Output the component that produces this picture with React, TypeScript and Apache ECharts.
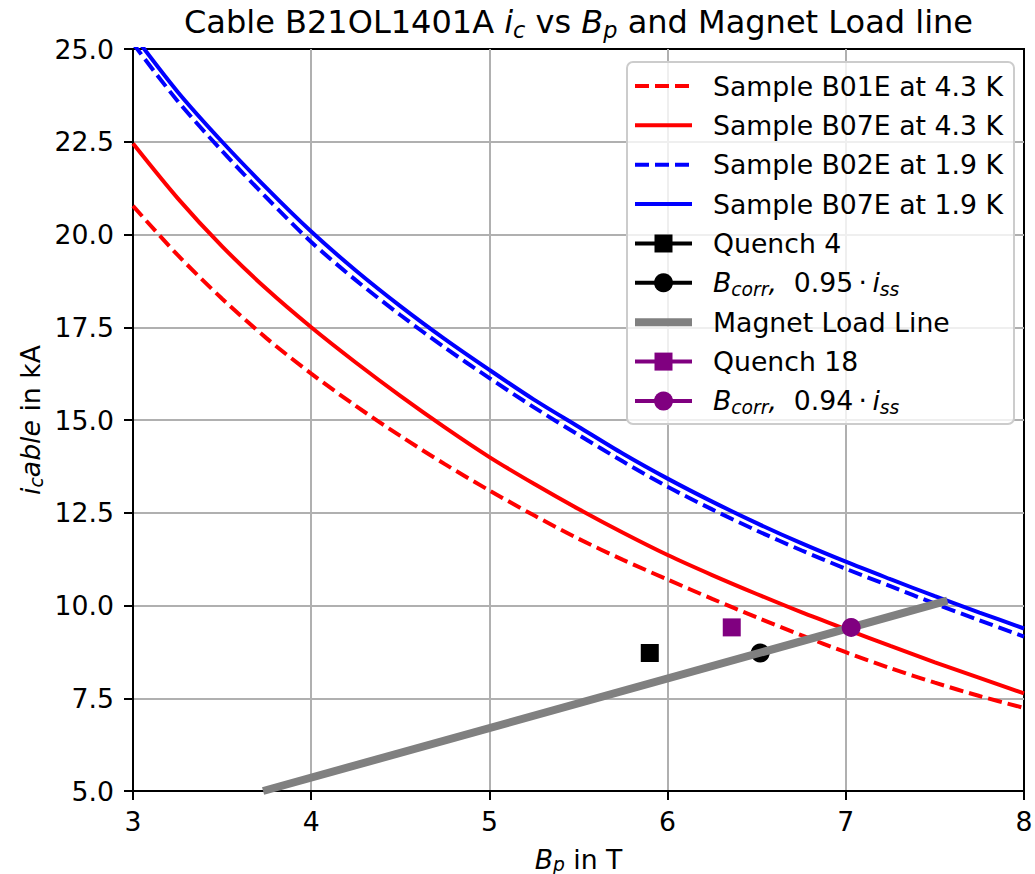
import React, { useEffect, useRef } from "react";
import * as echarts from "echarts";

// ---- data ----
const fieldT = [3, 3.25, 3.5, 3.75, 4, 4.25, 4.5, 4.75, 5, 5.25, 5.5, 5.75, 6, 6.25, 6.5, 6.75, 7, 7.25, 7.5, 7.75, 8];
const b01e43 = [20.77, 19.45, 18.27, 17.2, 16.25, 15.38, 14.57, 13.81, 13.1, 12.43, 11.8, 11.23, 10.7, 10.18, 9.68, 9.2, 8.74, 8.31, 7.92, 7.56, 7.24];
const b07e43 = [22.45, 20.98, 19.68, 18.53, 17.5, 16.55, 15.65, 14.8, 14.0, 13.28, 12.6, 11.96, 11.36, 10.82, 10.31, 9.82, 9.36, 8.91, 8.47, 8.05, 7.63];
const b02e19 = [25.15, 23.6, 22.25, 20.99, 19.8, 18.77, 17.83, 16.95, 16.13, 15.34, 14.6, 13.88, 13.2, 12.59, 12.02, 11.49, 10.99, 10.52, 10.05, 9.6, 9.16];
const b07e19 = [25.4, 23.85, 22.5, 21.25, 20.08, 19.03, 18.07, 17.18, 16.35, 15.55, 14.82, 14.09, 13.42, 12.8, 12.22, 11.68, 11.18, 10.71, 10.25, 9.81, 9.38];
const loadLineB = [3.73, 7.57];
const loadLineI = [5.0, 10.13];
const quench4 = [5.9, 8.72];
const bcorr95 = [6.52, 8.72];
const quench18 = [6.36, 9.41];
const bcorr94 = [7.03, 9.41];

const xMin = 3, xMax = 8, xStep = 1;
const yMin = 5, yMax = 25, yStep = 2.5;

const legendLabels = [
  "{n|Sample B01E at 4.3 K}",
  "{n|Sample B07E at 4.3 K}",
  "{n|Sample B02E at 1.9 K}",
  "{n|Sample B07E at 1.9 K}",
  "{n|Quench 4}",
  "{it|B}{sub|corr}{it|,}{n|  0.95\u2009·\u2009}{it|i}{sub|ss}",
  "{n|Magnet Load Line}",
  "{n|Quench 18}",
  "{it|B}{sub|corr}{it|,}{n|  0.94\u2009·\u2009}{it|i}{sub|ss}",
];
const titleText = "{n|Cable B21OL1401A }{it|i}{sub|c}{n| vs }{it|B}{sub|p}{n| and Magnet Load line}";
const xName = "{it|B}{sub|p}{n| in T}";
const yName = "{it|i}{sub|c}{it|able}{n| in kA}";

const FONT = "DejaVu Sans";
const FS = 26.7;
const RED = "#ff0000";
const BLUE = "#0000ff";
const PURPLE = "#800080";
const GRAY = "#808080";

function richFor(fs: number, lh = 1.3, shift = 0.5) {
  return {
    n: { fontFamily: FONT, fontSize: fs, lineHeight: fs * lh, color: "#000" },
    it: { fontFamily: FONT, fontSize: fs, fontStyle: "italic", lineHeight: fs * lh, color: "#000" },
    sub: {
      fontFamily: FONT,
      fontSize: fs * 0.7,
      fontStyle: "italic",
      lineHeight: fs * 0.7,
      padding: [fs * shift, 0, 0, 0],
      color: "#000",
    },
  };
}

function pairs(ys: number[]) {
  return fieldT.map((x, i) => [x, ys[i]]);
}

export default function App() {
  const ref = useRef<HTMLDivElement>(null);
  useEffect(() => {
    if (!ref.current) return;
    const chart = echarts.init(ref.current, null, { renderer: "svg" });

    const dash = [14, 6];
    const legendStyles = [
      { kind: "line", color: RED, dash },
      { kind: "line", color: RED },
      { kind: "line", color: BLUE, dash },
      { kind: "line", color: BLUE },
      { kind: "rect", color: "#000" },
      { kind: "circle", color: "#000" },
      { kind: "thick", color: GRAY },
      { kind: "rect", color: PURPLE },
      { kind: "circle", color: PURPLE },
    ];
    const lx0 = 635, lx1 = 692, lxc = 663.5, textX = 713;
    const rowY0 = 86, rowStep = 39.37;
    const legendEls: any[] = [
      {
        type: "rect",
        z: 100,
        shape: { x: 627, y: 62, width: 387, height: 362, r: 6 },
        style: { fill: "rgba(255,255,255,0.8)", stroke: "#cccccc", lineWidth: 2 },
      },
    ];
    legendStyles.forEach((s, i) => {
      const y = rowY0 + i * rowStep;
      legendEls.push({
        type: "line",
        z: 101,
        shape: { x1: lx0, y1: y, x2: lx1, y2: y },
        style: {
          stroke: s.color,
          lineWidth: s.kind === "thick" ? 8 : 4,
          lineDash: (s as any).dash || null,
        },
      });
      if (s.kind === "rect") {
        legendEls.push({
          type: "rect",
          z: 102,
          shape: { x: lxc - 9, y: y - 9, width: 18, height: 18 },
          style: { fill: s.color },
        });
      } else if (s.kind === "circle") {
        legendEls.push({
          type: "circle",
          z: 102,
          shape: { cx: lxc, cy: y, r: 9.5 },
          style: { fill: s.color },
        });
      }
      legendEls.push({
        type: "text",
        z: 102,
        x: textX,
        y: y,
        style: { text: legendLabels[i], rich: richFor(FS), align: "left", verticalAlign: "middle" },
      });
    });

    const curve = (name: string, ys: number[], color: string, dashed: boolean) => ({
      name,
      type: "line",
      data: pairs(ys),
      symbol: "none",
      smooth: 0.3,
      clip: true,
      z: 2,
      lineStyle: dashed ? { color, width: 4, type: dash } : { color, width: 4 },
    });

    const option: any = {
      animation: false,
      backgroundColor: "#ffffff",
      grid: {
        left: 133,
        right: 11,
        top: 49,
        bottom: 83,
        show: true,
        borderColor: "#000",
        borderWidth: 2,
        backgroundColor: "transparent",
        containLabel: false,
        outerBoundsMode: "none",
      },
      xAxis: {
        type: "value",
        min: xMin,
        max: xMax,
        interval: xStep,
        axisLine: { show: true, onZero: false, lineStyle: { color: "#000", width: 2 } },
        axisTick: { show: true, inside: false, length: 9, lineStyle: { color: "#000", width: 2 } },
        axisLabel: { color: "#000", fontFamily: FONT, fontSize: FS, margin: 17 },
        splitLine: { show: true, showMinLine: false, showMaxLine: false, lineStyle: { color: "#b0b0b0", width: 2 } },
      },
      yAxis: {
        type: "value",
        min: yMin,
        max: yMax,
        interval: yStep,
        axisLine: { show: true, onZero: false, lineStyle: { color: "#000", width: 2 } },
        axisTick: { show: true, inside: false, length: 9, lineStyle: { color: "#000", width: 2 } },
        axisLabel: {
          color: "#000",
          fontFamily: FONT,
          fontSize: FS,
          margin: 19,
          formatter: (v: number) => v.toFixed(1),
        },
        splitLine: { show: true, showMinLine: false, showMaxLine: false, lineStyle: { color: "#b0b0b0", width: 2 } },
      },
      series: [
        curve("Sample B01E at 4.3 K", b01e43, RED, true),
        curve("Sample B07E at 4.3 K", b07e43, RED, false),
        curve("Sample B02E at 1.9 K", b02e19, BLUE, true),
        curve("Sample B07E at 1.9 K", b07e19, BLUE, false),
        {
          name: "Quench 4",
          type: "scatter",
          data: [quench4],
          symbol: "rect",
          symbolSize: 18,
          z: 3,
          itemStyle: { color: "#000", opacity: 1 },
        },
        {
          name: "Bcorr 0.95",
          type: "scatter",
          data: [bcorr95],
          symbol: "circle",
          symbolSize: 19,
          z: 3,
          itemStyle: { color: "#000", opacity: 1 },
        },
        {
          name: "Magnet Load Line",
          type: "line",
          data: loadLineB.map((b, i) => [b, loadLineI[i]]),
          symbol: "none",
          clip: true,
          z: 4,
          lineStyle: { color: GRAY, width: 8 },
        },
        {
          name: "Quench 18",
          type: "scatter",
          data: [quench18],
          symbol: "rect",
          symbolSize: 18,
          z: 5,
          itemStyle: { color: PURPLE, opacity: 1 },
        },
        {
          name: "Bcorr 0.94",
          type: "scatter",
          data: [bcorr94],
          symbol: "circle",
          symbolSize: 19,
          z: 5,
          itemStyle: { color: PURPLE, opacity: 1 },
        },
      ],
      graphic: {
        elements: [
          {
            type: "text",
            x: 578.5,
            y: 22,
            style: { text: titleText, rich: richFor(32), align: "center", verticalAlign: "middle" },
          },
          {
            type: "text",
            x: 578.5,
            y: 859,
            style: { text: xName, rich: richFor(FS, 1.0, 0.38), align: "center", verticalAlign: "middle" },
          },
          {
            type: "text",
            x: 30,
            y: 420,
            rotation: Math.PI / 2,
            style: { text: yName, rich: richFor(FS), align: "center", verticalAlign: "middle" },
          },
          ...legendEls,
        ],
      },
    };
    chart.setOption(option);
    return () => chart.dispose();
  }, []);
  return (
    <div
      ref={ref}
      style={{ position: "absolute", left: 0, top: 0, width: 1035, height: 874, background: "#fff" }}
    />
  );
}
